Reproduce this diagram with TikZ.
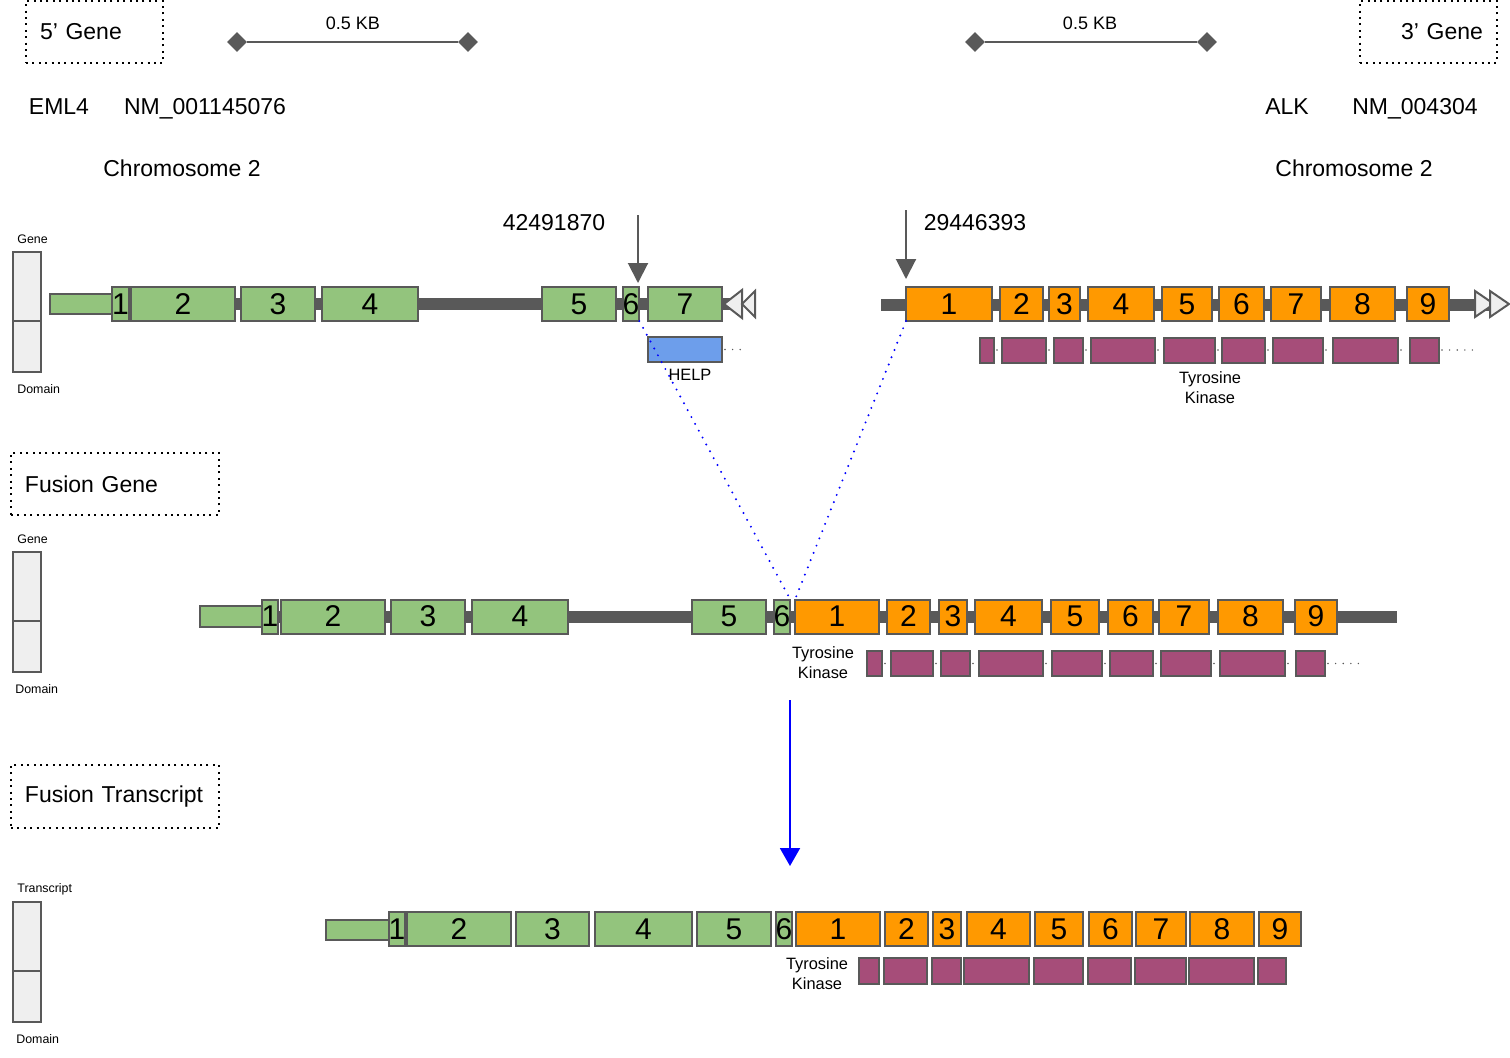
\documentclass[tikz,border=0pt]{standalone}
\usepackage{fontspec}
\setmainfont{Liberation Sans}
\usetikzlibrary{shapes.geometric, arrows.meta, positioning}

\definecolor{exongreen}{HTML}{93C47D}
\definecolor{exonorange}{HTML}{FF9900}
\definecolor{kinase}{HTML}{A64D79}
\definecolor{helpblue}{HTML}{6D9EEB}
\definecolor{edgegrey}{HTML}{595959}
\definecolor{legendgrey}{HTML}{EFEFEF}

\begin{document}
\begin{tikzpicture}[
  x=0.5pt, y=-0.5pt, % one unit is one pixel of the original picture
  box/.style={draw=edgegrey, line width=1pt, inner sep=0pt, outer sep=0pt, minimum height=17pt},
  eml/.style={box, fill=exongreen, font=\fontsize{15}{15}\selectfont},
  alk/.style={box, fill=exonorange, font=\fontsize{15}{15}\selectfont},
  utr/.style={box, fill=exongreen, minimum height=10pt},
  kin/.style={box, fill=kinase, minimum height=12.5pt},
  helpdom/.style={box, fill=helpblue, minimum height=12.5pt},
  legend/.style={box, fill=legendgrey, minimum width=14pt},
  backbone/.style={draw=edgegrey, line width=6pt},
  tri/.style={draw=edgegrey, fill=legendgrey, line width=1pt},
  titlebox/.style={draw, line width=1pt, dash pattern=on 1pt off 2.2pt, inner xsep=7pt, minimum height=31pt, font=\fontsize{11.5}{13}\selectfont},
  lbl/.style={font=\fontsize{11.5}{13}\selectfont, inner sep=0pt},
  scalelbl/.style={font=\fontsize{9}{10}\selectfont, inner sep=0pt},
  domlbl/.style={font=\fontsize{8.2}{10}\selectfont, align=center, inner sep=0pt},
  tiny/.style={font=\fontsize{6.2}{7}\selectfont, inner sep=0pt, anchor=west},
  diam/.style={diamond, fill=edgegrey, minimum size=10pt, inner sep=0pt},
  scalebar/.style={draw=edgegrey, line width=1pt},
  bparrow/.style={draw=edgegrey, line width=1pt, -{Triangle[width=10pt,length=10pt]}},
  fusearrow/.style={draw=blue, line width=1pt, -{Triangle[width=10pt,length=9pt]}},
  fusedots/.style={draw=blue, line width=1.1pt, line cap=round, dash pattern=on 0pt off 3.9pt},
  domdots/.style={draw=edgegrey, line width=0.8pt, line cap=round, dash pattern=on 0pt off 3.8pt, shorten <=1.5pt, shorten >=1.5pt}]

  \useasboundingbox (0,0) rectangle (1510,1057);

  % headers and scale bars
  \node[titlebox, text width=54.5pt, align=left] (fivep) at (94.5,32) {5’ Gene};
  \node[titlebox, text width=54.5pt, align=right] (threep) at (1428.5,32) {3’ Gene};
  \node[diam] (sA0) at (237,42) {};
  \node[diam] (sA1) at (468,42) {};
  \draw[scalebar] (sA0) -- (sA1);
  \node[scalelbl] (sAl) at (353,23) {0.5 KB};
  \node[diam] (sB0) at (975,42) {};
  \node[diam] (sB1) at (1207,42) {};
  \draw[scalebar] (sB0) -- (sB1);
  \node[scalelbl] (sBl) at (1090,23) {0.5 KB};

  \node[lbl] (geneA) at (59,107) {EML4};
  \node[lbl] (nmA) at (205,109) {NM\_001145076};
  \node[lbl] (chrA) at (182,168) {Chromosome 2};
  \node[lbl] (geneB) at (1287,107) {ALK};
  \node[lbl] (nmB) at (1415,109) {NM\_004304};
  \node[lbl] (chrB) at (1354,168) {Chromosome 2};
  \node[lbl] (posA) at (554,223) {42491870};
  \node[lbl] (posB) at (975,223) {29446393};

  % legends
  \node[legend, minimum height=34.5pt] (lgA1) at (27,286.5) {};
  \node[legend, minimum height=25.5pt, below=0pt of lgA1] (lgA2) {};
  \node[tiny] (lgA0) at (17,239) {Gene};
  \node[tiny] (lgA3) at (17,389) {Domain};
  \node[legend, minimum height=34.5pt] (lgB1) at (27,586.5) {};
  \node[legend, minimum height=25.5pt, below=0pt of lgB1] (lgB2) {};
  \node[tiny] (lgB0) at (17,539) {Gene};
  \node[tiny] (lgB3) at (15,689) {Domain};
  \node[legend, minimum height=34.5pt] (lgC1) at (27,936.5) {};
  \node[legend, minimum height=25.5pt, below=0pt of lgC1] (lgC2) {};
  \node[tiny] (lgC0) at (17,889) {Transcript};
  \node[tiny] (lgC3) at (16,1039) {Domain};

  \node[titlebox, text width=90pt, align=left] (fusg) at (115,484) {\mbox{Fusion Gene}};
  \node[titlebox, text width=90pt, align=left, minimum height=31.5pt] (fust) at (115,796.5) {\mbox{Fusion Transcript}};

  % EML4 gene
  \coordinate (bbA0) at (113,304);
  \coordinate (bbA1) at (740,304);
  \draw[backbone] (bbA0) -- (bbA1);
  \node[utr, minimum width=31.5pt] (utrA) at (81.5,304) {};
  \foreach \xa/\xb/\lab in {113/128/1, 131/235/2, 241/315/3, 322/418/4, 542/616/5, 623/639/6, 648/722/7}
    \node[eml, minimum width={(\xb-\xa)*0.5pt}] (a\lab) at ({(\xa+\xb)/2},304) {\lab};
  \draw[tri] (724,304) -- (742,290) -- (742,318) -- cycle;
  \draw[tri] (742,304) -- (755,291) -- (755,317) -- cycle;
  \node[helpdom, minimum width=37pt] (help) at (685,349.5) {};
  \coordinate (helpend) at (748,349.5);
  \draw[domdots] (help.east) -- (helpend);
  \node[domlbl] (helpl) at (690,375) {HELP};
  \coordinate (bpA0) at (638,215);
  \coordinate (bpA1) at (638,283);
  \draw[bparrow] (bpA0) -- (bpA1);

  % ALK gene
  \coordinate (bbB0) at (881,305);
  \coordinate (bbB1) at (1490,305);
  \draw[backbone] (bbB0) -- (bbB1);
  \foreach \xa/\xb/\lab in {906/992/1, 1000/1043/2, 1049/1080/3, 1088/1154/4, 1162/1212/5, 1219/1264/6, 1271/1321/7, 1330/1395/8, 1407/1449/9}
    \node[alk, minimum width={(\xb-\xa)*0.5pt}] (b\lab) at ({(\xa+\xb)/2},304) {\lab};
  \draw[tri] (1494,304) -- (1475,291) -- (1475,317) -- cycle;
  \draw[tri] (1509,304) -- (1490,291) -- (1490,317) -- cycle;
  \foreach \xa/\xb [count=\i] in {980/994, 1002/1046, 1054/1083, 1091/1155, 1164/1215, 1222/1265, 1273/1323, 1333/1398, 1410/1439}
    \node[kin, minimum width={(\xb-\xa)*0.5pt}] (kb\i) at ({(\xa+\xb)/2},350) {};
  \foreach \i [evaluate=\i as \j using int(\i+1)] in {1,...,8}
    \draw[domdots] (kb\i.east) -- (kb\j.west);
  \coordinate (kbend) at (1481,350);
  \draw[domdots] (kb9.east) -- (kbend);
  \node[domlbl] (kbl) at (1210,388) {Tyrosine\\Kinase};
  \coordinate (bpB0) at (906,210);
  \coordinate (bpB1) at (906,279);
  \draw[bparrow] (bpB0) -- (bpB1);

  % fusion gene
  \coordinate (bbF0) at (263,616.5);
  \coordinate (bbF1) at (1397,616.5);
  \draw[backbone] (bbF0) -- (bbF1);
  \node[utr, minimum width=31.5pt, minimum height=10.5pt] (utrF) at (231.5,616.5) {};
  \foreach \xa/\xb/\lab in {262/278/1, 281/385/2, 391/465/3, 472/568/4, 692/766/5, 774/790/6}
    \node[eml, minimum width={(\xb-\xa)*0.5pt}] (fa\lab) at ({(\xa+\xb)/2},616.5) {\lab};
  \foreach \xa/\xb/\lab in {795/879/1, 887/930/2, 939/967/3, 975/1042/4, 1051/1099/5, 1108/1153/6, 1159/1209/7, 1218/1283/8, 1295/1337/9}
    \node[alk, minimum width={(\xb-\xa)*0.5pt}] (fb\lab) at ({(\xa+\xb)/2},616.5) {\lab};
  \foreach \xa/\xb [count=\i] in {867/882, 891/933, 941/970, 979/1043, 1052/1102, 1110/1153, 1161/1211, 1220/1285, 1296/1325}
    \node[kin, minimum width={(\xb-\xa)*0.5pt}] (fk\i) at ({(\xa+\xb)/2},663.5) {};
  \foreach \i [evaluate=\i as \j using int(\i+1)] in {1,...,8}
    \draw[domdots] (fk\i.east) -- (fk\j.west);
  \coordinate (fkend) at (1368,663.5);
  \draw[domdots] (fk9.east) -- (fkend);
  \node[domlbl] (fkl) at (823,663) {Tyrosine\\Kinase};

  \draw[fusedots] (a6.south east) -- (fa6.north east);
  \draw[fusedots] (b1.south west) -- (fb1.north west);

  \coordinate (arrS) at (790,700);
  \coordinate (arrE) at (790,866);
  \draw[fusearrow] (arrS) -- (arrE);

  % fusion transcript
  \node[utr, minimum width=31.5pt] (utrT) at (357.5,929.5) {};
  \foreach \xa/\xb/\lab in {389/405/1, 407/511/2, 516/589/3, 595/692/4, 697/771/5, 776/792/6}
    \node[eml, minimum width={(\xb-\xa)*0.5pt}] (ta\lab) at ({(\xa+\xb)/2},929) {\lab};
  \foreach \xa/\xb/\lab in {796/880/1, 885/928/2, 933/961/3, 967/1030/4, 1035/1083/5, 1089/1132/6, 1136/1186/7, 1190/1254/8, 1259/1301/9}
    \node[alk, minimum width={(\xb-\xa)*0.5pt}] (tb\lab) at ({(\xa+\xb)/2},929) {\lab};
  \foreach \xa/\xb [count=\i] in {859/879, 884/927, 932/961, 964/1029, 1034/1083, 1088/1131, 1135/1186, 1189/1254, 1258/1286}
    \node[kin, minimum width={(\xb-\xa)*0.5pt}, minimum height=13pt] (tk\i) at ({(\xa+\xb)/2},971) {};
  \node[domlbl] (tkl) at (817,974) {Tyrosine\\Kinase};
\end{tikzpicture}
\end{document}
